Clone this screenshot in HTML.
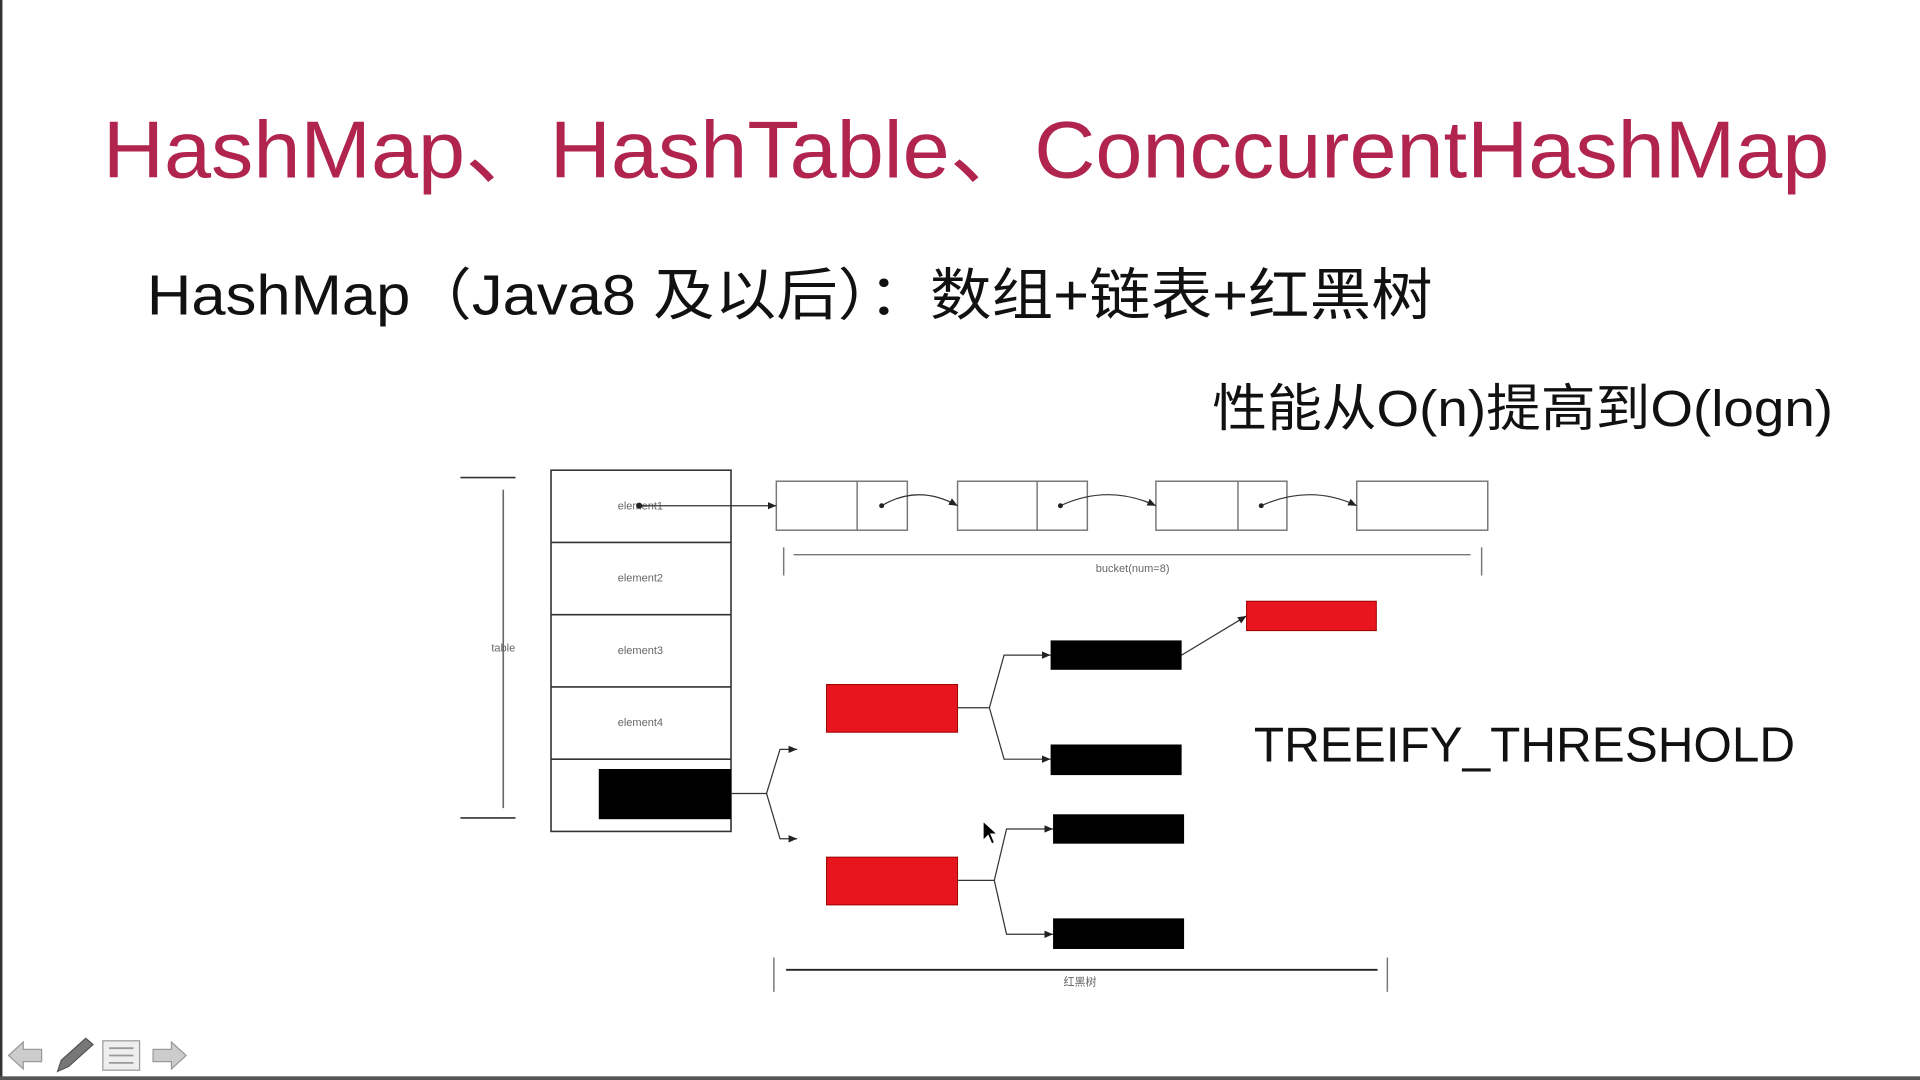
<!DOCTYPE html>
<html><head><meta charset="utf-8"><style>
html,body{margin:0;padding:0;background:#fff;width:1920px;height:1080px;overflow:hidden}
svg{display:block}
</style></head><body>
<svg width="1920" height="1080" viewBox="0 0 1568 882" preserveAspectRatio="none" xmlns="http://www.w3.org/2000/svg" font-family="Liberation Sans, Noto Sans CJK SC, sans-serif">
<defs><marker id="a" markerWidth="8" markerHeight="8" refX="7" refY="4" orient="auto" markerUnits="userSpaceOnUse"><path d="M0,1 L7,4 L0,7 z" fill="#222"/></marker></defs>
<rect x="0" y="0" width="2" height="882" fill="#333"/>
<rect x="0" y="879" width="1568" height="3" fill="#555"/>
<text x="84" y="145" font-size="66" fill="#b0244e" textLength="1410" lengthAdjust="spacingAndGlyphs">HashMap、HashTable、ConccurentHashMap</text>
<text x="120" y="257" font-size="46" fill="#111" textLength="1050" lengthAdjust="spacingAndGlyphs">HashMap（Java8 及以后）：数组+链表+红黑树</text>
<text x="990" y="348" font-size="42" fill="#111" textLength="507" lengthAdjust="spacingAndGlyphs">性能从O(n)提高到O(logn)</text>
<text x="1024" y="622" font-size="40" fill="#111" textLength="442" lengthAdjust="spacingAndGlyphs">TREEIFY_THRESHOLD</text>
<g stroke="#333" stroke-width="1.3" fill="none">
<rect x="450" y="384" width="147" height="295"/>
<line x1="450" y1="443" x2="597" y2="443"/><line x1="450" y1="502" x2="597" y2="502"/>
<line x1="450" y1="561" x2="597" y2="561"/><line x1="450" y1="620" x2="597" y2="620"/>
<line x1="376" y1="390" x2="421" y2="390"/><line x1="376" y1="668" x2="421" y2="668"/>
<line x1="411" y1="400" x2="411" y2="660" stroke="#666"/>
</g>
<g stroke="#777" stroke-width="1.2" fill="none">
<rect x="634" y="393" width="107" height="40"/><line x1="700" y1="393" x2="700" y2="433"/>
<rect x="782" y="393" width="106" height="40"/><line x1="847" y1="393" x2="847" y2="433"/>
<rect x="944" y="393" width="107" height="40"/><line x1="1011" y1="393" x2="1011" y2="433"/>
<rect x="1108" y="393" width="107" height="40"/>
<line x1="640" y1="447" x2="640" y2="470"/><line x1="648" y1="453" x2="1201" y2="453"/><line x1="1210" y1="447" x2="1210" y2="470"/>
<line x1="632" y1="782" x2="632" y2="810"/><line x1="1133" y1="782" x2="1133" y2="810"/>
</g>
<line x1="642" y1="792" x2="1125" y2="792" stroke="#222" stroke-width="1.5"/>
<g font-size="9" fill="#666" text-anchor="middle">
<text x="523" y="416">element1</text><text x="523" y="475">element2</text><text x="523" y="534">element3</text><text x="523" y="593">element4</text>
<text x="411" y="532">table</text><text x="925" y="467">bucket(num=8)</text><text x="882" y="805">红黑树</text>
</g>
<g stroke="#333" stroke-width="1" fill="none" marker-end="url(#a)">
<line x1="522" y1="413" x2="634" y2="413"/>
<path d="M720,413 Q750,395 782,413"/>
<path d="M866,413 Q905,395 944,413"/>
<path d="M1030,413 Q1070,395 1108,413"/>
<path d="M597,648 L626,648 L637,612 L651,612"/>
<path d="M626,648 L637,685 L651,685"/>
<path d="M782,578 L808,578 L820,535 L858,535"/>
<path d="M808,578 L820,620 L858,620"/>
<path d="M782,719 L812,719 L822,677 L860,677"/>
<path d="M812,719 L822,763 L860,763"/>
<line x1="965" y1="535" x2="1018" y2="503"/>
</g>
<g fill="#222"><circle cx="522" cy="413" r="2.5"/><circle cx="720" cy="413" r="2"/><circle cx="866" cy="413" r="2"/><circle cx="1030" cy="413" r="2"/></g>
<g fill="#000">
<rect x="489" y="628" width="108" height="41"/>
<rect x="858" y="523" width="107" height="24"/><rect x="858" y="608" width="107" height="25"/>
<rect x="860" y="665" width="107" height="24"/><rect x="860" y="750" width="107" height="25"/>
</g>
<g fill="#e8141e" stroke="#900" stroke-width="0.8">
<rect x="675" y="559" width="107" height="39"/><rect x="675" y="700" width="107" height="39"/>
<rect x="1018" y="491" width="106" height="24"/>
</g>
<path d="M803,671 L803,686 L807,682 L810,689 L812,688 L809,681 L814,681 z" fill="#000" stroke="#fff" stroke-width="0.6"/>
<g stroke="#999" stroke-width="1" fill="#ccc">
<path d="M7,862 L19,851 L19,857 L34,857 L34,867 L19,867 L19,873 z"/>
<path d="M152,862 L140,851 L140,857 L125,857 L125,867 L140,867 L140,873 z"/>
<rect x="84" y="850" width="30" height="24" fill="#eee"/>
<path d="M47,875 L50,866 L70,848 L76,853 L56,871 z" fill="#777" stroke="#555"/>
</g>
<g stroke="#999" stroke-width="1.5"><line x1="89" y1="856" x2="109" y2="856"/><line x1="89" y1="862" x2="109" y2="862"/><line x1="89" y1="868" x2="109" y2="868"/></g>
</svg>
</body></html>
